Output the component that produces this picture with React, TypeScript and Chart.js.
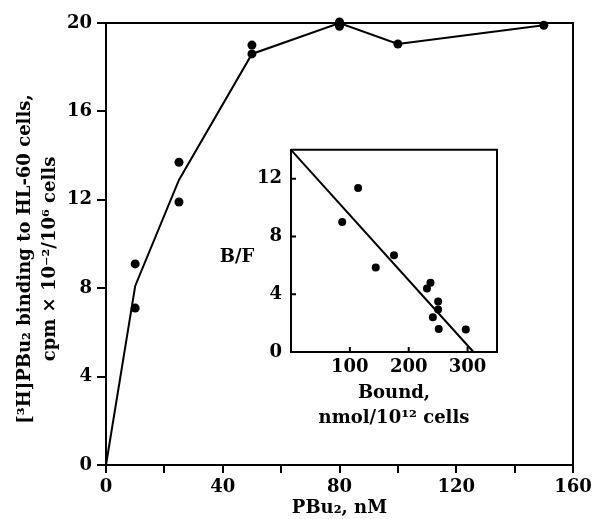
import React, { useEffect, useRef } from "react";
import { Chart, registerables } from "chart.js";

Chart.register(...registerables);

const FAMILY = "'DejaVu Serif', 'Liberation Serif', serif";

// ---- main panel data ----
const concentrationNM = [0, 10, 25, 50, 80, 100, 150];
const meanBinding = [0, 8.1, 12.9, 18.6, 20.0, 19.05, 19.9];
const sampleConcNM = [10, 10, 25, 25, 50, 50, 80, 80, 100, 150];
const sampleBinding = [9.1, 7.1, 13.7, 11.9, 19.0, 18.6, 20.05, 19.85, 19.05, 19.9];
const mainXTicks = [0, 20, 40, 60, 80, 100, 120, 140, 160];
const mainXLabels = ["0", "", "40", "", "80", "", "120", "", "160"];
const mainYTicks = [0, 4, 8, 12, 16, 20];
const mainYLabels = ["0", "4", "8", "12", "16", "20"];
const mainXTitle = "PBu₂, nM";
const mainYTitle = ["[³H]PBu₂ binding to HL-60 cells,", "cpm × 10⁻²/10⁶ cells"];

// ---- inset (Scatchard) data ----
const boundValues = [87, 114, 144, 175, 231, 237, 250, 250, 241, 251, 297];
const bfValues = [9.0, 11.35, 5.85, 6.7, 4.4, 4.8, 3.5, 2.95, 2.4, 1.6, 1.55];
const fitBound = [0, 310];
const fitBF = [14, 0];
const insetXTicks = [100, 200, 300];
const insetXLabels = ["100", "200", "300"];
const insetYTicks = [0, 4, 8, 12];
const insetYLabels = ["0", "4", "8", "12"];
const insetXTitle = ["Bound,", "nmol/10¹² cells"];
const insetYTitle = "B/F";

const tickFont = { family: FAMILY, size: 18, weight: "bold" as const, lineHeight: 1.2 };
const titleFont = { family: FAMILY, size: 18, weight: "bold" as const, lineHeight: "25px" };

const boxPlugin = {
  id: "box",
  afterDraw(chart: any) {
    const { ctx, chartArea: a } = chart;
    ctx.save();
    ctx.strokeStyle = "#000";
    ctx.lineWidth = 2;
    ctx.beginPath();
    ctx.moveTo(a.left, a.top);
    ctx.lineTo(a.right, a.top);
    ctx.lineTo(a.right, a.bottom);
    ctx.stroke();
    ctx.restore();
  },
};

const mainYTitlePlugin = {
  id: "mainYTitle",
  afterDraw(chart: any) {
    const { ctx } = chart;
    ctx.save();
    ctx.fillStyle = "#000";
    ctx.font = `bold 18px ${FAMILY}`;
    ctx.textAlign = "center";
    ctx.textBaseline = "middle";
    ctx.translate(0, 259);
    ctx.rotate(-Math.PI / 2);
    ctx.fillText(mainYTitle[0], 0, 25);
    ctx.fillText(mainYTitle[1], 0, 50);
    ctx.restore();
  },
};

const insetExtrasPlugin = {
  id: "insetExtras",
  afterDraw(chart: any) {
    const { ctx, chartArea: a, scales } = chart;
    ctx.save();
    ctx.strokeStyle = "#000";
    ctx.lineWidth = 2;
    ctx.beginPath();
    ctx.moveTo(a.left, a.top);
    ctx.lineTo(a.right, a.top);
    ctx.lineTo(a.right, a.bottom);
    insetXTicks.forEach((v) => {
      const px = scales.x.getPixelForValue(v);
      ctx.moveTo(px, a.bottom);
      ctx.lineTo(px, a.bottom - 5);
    });
    insetYTicks.slice(1).forEach((v) => {
      const py = scales.y.getPixelForValue(v);
      ctx.moveTo(a.left, py);
      ctx.lineTo(a.left + 5, py);
    });
    ctx.stroke();
    ctx.fillStyle = "#000";
    ctx.font = `bold 18px ${FAMILY}`;
    ctx.textAlign = "center";
    ctx.textBaseline = "middle";
    ctx.fillText(insetYTitle, 22, 127);
    ctx.restore();
  },
};

export default function App() {
  const mainRef = useRef<HTMLCanvasElement>(null);
  const insetRef = useRef<HTMLCanvasElement>(null);

  useEffect(() => {
    const main = new Chart(mainRef.current!, {
      type: "scatter",
      data: {
        datasets: [
          {
            data: concentrationNM.map((x, i) => ({ x, y: meanBinding[i] })),
            showLine: true,
            borderColor: "#000",
            borderWidth: 2,
            pointRadius: 0,
            fill: false,
            clip: false,
          } as any,
          {
            data: sampleConcNM.map((x, i) => ({ x, y: sampleBinding[i] })),
            pointRadius: 4.5,
            backgroundColor: "#000",
            borderColor: "#000",
            borderWidth: 0,
            clip: false,
          } as any,
        ],
      },
      options: {
        animation: false,
        responsive: false,
        maintainAspectRatio: false,
        layout: { padding: { left: 0, right: 24, top: 23, bottom: 0 } },
        plugins: { legend: { display: false }, tooltip: { enabled: false } },
        scales: {
          x: {
            type: "linear",
            min: 0,
            max: 160,
            afterBuildTicks: (s: any) => {
              s.ticks = mainXTicks.map((value) => ({ value }));
            },
            afterFit: (s: any) => {
              s.height = 54;
            },
            ticks: {
              autoSkip: false,
              maxRotation: 0,
              padding: 4,
              color: "#000",
              font: tickFont,
              callback: (_v: any, i: number) => mainXLabels[i],
            },
            grid: { drawOnChartArea: false, tickLength: 8, color: "#000", lineWidth: 2 },
            border: { color: "#000", width: 2 },
            title: { display: true, text: mainXTitle, color: "#000", font: { ...tickFont }, padding: { top: 0, bottom: 0 } },
          },
          y: {
            type: "linear",
            min: 0,
            max: 20,
            afterBuildTicks: (s: any) => {
              s.ticks = mainYTicks.map((value) => ({ value }));
            },
            afterFit: (s: any) => {
              s.width = 106;
            },
            ticks: {
              autoSkip: false,
              padding: 5,
              color: "#000",
              font: tickFont,
              callback: (_v: any, i: number) => mainYLabels[i],
            },
            grid: { drawOnChartArea: false, tickLength: 9, color: "#000", lineWidth: 2 },
            border: { color: "#000", width: 2 },
          },
        },
      } as any,
      plugins: [boxPlugin, mainYTitlePlugin],
    });

    const inset = new Chart(insetRef.current!, {
      type: "scatter",
      data: {
        datasets: [
          {
            data: fitBound.map((x, i) => ({ x, y: fitBF[i] })),
            showLine: true,
            borderColor: "#000",
            borderWidth: 2,
            pointRadius: 0,
            fill: false,
            clip: false,
          } as any,
          {
            data: boundValues.map((x, i) => ({ x, y: bfValues[i] })),
            pointRadius: 4,
            backgroundColor: "#000",
            borderColor: "#000",
            borderWidth: 0,
            clip: false,
          } as any,
        ],
      },
      options: {
        animation: false,
        responsive: false,
        maintainAspectRatio: false,
        layout: { padding: { left: 0, right: 18, top: 14, bottom: 0 } },
        plugins: { legend: { display: false }, tooltip: { enabled: false } },
        scales: {
          x: {
            type: "linear",
            min: 0,
            max: 350,
            afterBuildTicks: (s: any) => {
              s.ticks = insetXTicks.map((value) => ({ value }));
            },
            afterFit: (s: any) => {
              s.height = 83;
            },
            ticks: {
              autoSkip: false,
              maxRotation: 0,
              padding: 5,
              color: "#000",
              font: tickFont,
              callback: (_v: any, i: number) => insetXLabels[i],
            },
            grid: { display: false, drawTicks: false },
            border: { color: "#000", width: 2 },
            title: { display: true, text: insetXTitle, color: "#000", font: titleFont, padding: { top: 0, bottom: 4.5 } },
          },
          y: {
            type: "linear",
            min: 0,
            max: 14,
            afterBuildTicks: (s: any) => {
              s.ticks = insetYTicks.map((value) => ({ value }));
            },
            afterFit: (s: any) => {
              s.width = 76;
            },
            ticks: {
              autoSkip: false,
              padding: 9,
              color: "#000",
              font: tickFont,
              callback: (_v: any, i: number) => insetYLabels[i],
            },
            grid: { display: false, drawTicks: false },
            border: { color: "#000", width: 2 },
          },
        },
      } as any,
      plugins: [insetExtrasPlugin],
    });

    return () => {
      main.destroy();
      inset.destroy();
    };
  }, []);

  return (
    <div style={{ position: "fixed", left: 0, top: 0, width: 597, height: 519, background: "#fff" }}>
      <canvas ref={mainRef} width={597} height={519} style={{ position: "absolute", left: 0, top: 0, width: 597, height: 519 }} />
      <canvas ref={insetRef} width={300} height={305} style={{ position: "absolute", left: 215, top: 130, width: 300, height: 305 }} />
    </div>
  );
}
